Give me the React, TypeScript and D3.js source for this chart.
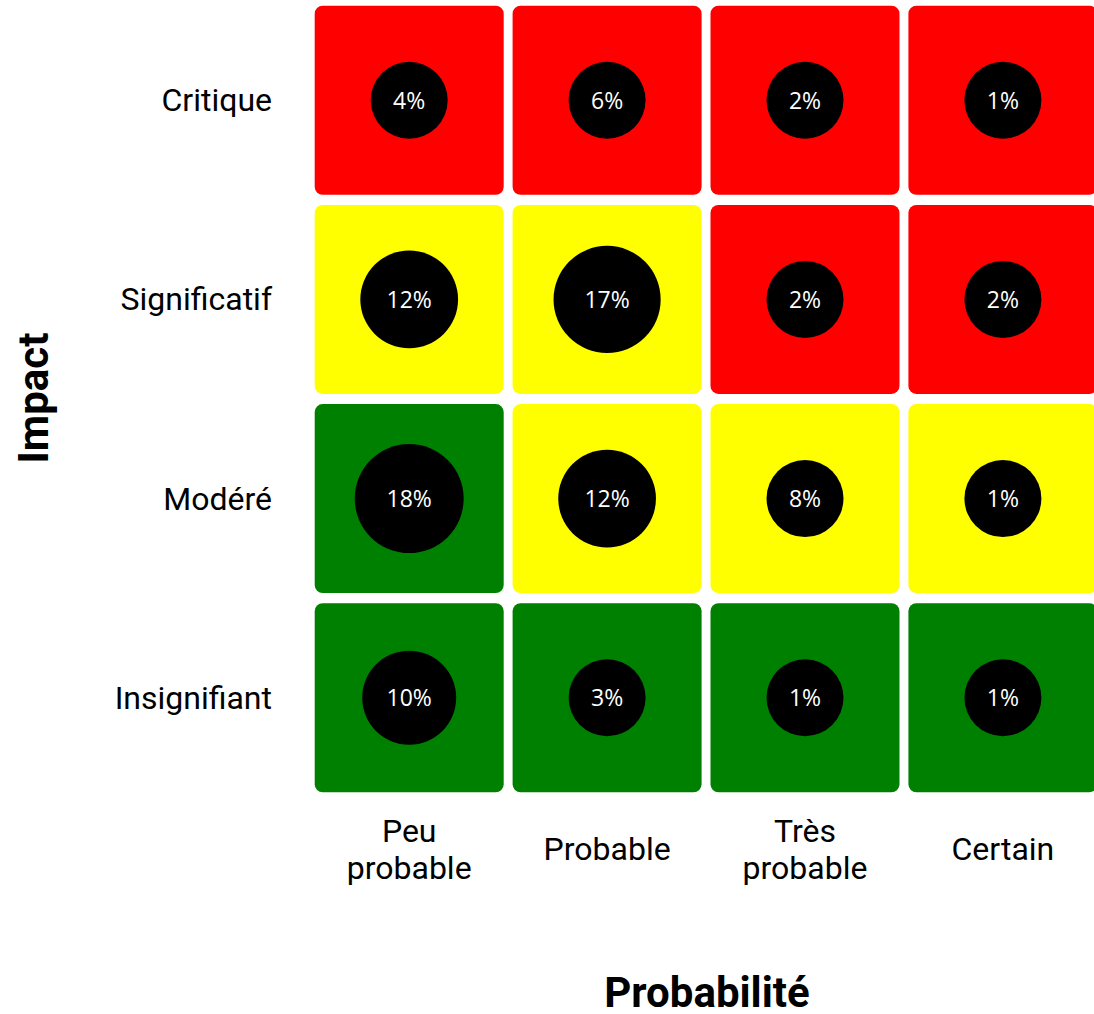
import * as React from "react";
import { scaleBand, scaleLinear, scaleOrdinal } from "d3";

// matrix rows (impact) from top to bottom
const impacts = ["Critique", "Significatif", "Modéré", "Insignifiant"];
// matrix columns (probability), split into the lines shown under each column
const probabilities = [["Peu", "probable"], ["Probable"], ["Très", "probable"], ["Certain"]];

// share of risks in each cell, in %, one array per impact row
const critique = [4, 6, 2, 1];
const significatif = [12, 17, 2, 2];
const modere = [18, 12, 8, 1];
const insignifiant = [10, 3, 1, 1];
const shares = [critique, significatif, modere, insignifiant];

// risk level of each cell: 0 low, 1 medium, 2 high
const levels = [
  [2, 2, 2, 2],
  [1, 1, 2, 2],
  [0, 1, 1, 1],
  [0, 0, 0, 0],
];

const W = 1094;
const H = 1014;

export default function App() {
  const xScale = scaleBand<number>()
    .domain([0, 1, 2, 3])
    .range([314.7, 1097.4])
    .paddingInner(0.045);

  const yScale = scaleBand<number>()
    .domain([0, 1, 2, 3])
    .range([5.7, 792.3])
    .paddingInner(0.051);

  const color = scaleOrdinal<number, string>()
    .domain([0, 1, 2])
    .range(["#008000", "#ffff00", "#ff0000"]);

  // small shares all get the same base bubble
  const rScale = scaleLinear().domain([0, 9, 10, 18]).range([38.5, 38.5, 47, 54.5]);

  const bw = xScale.bandwidth();
  const bh = yScale.bandwidth();

  const cell = (v: number, row: number, col: number) => {
    const x = xScale(col)!;
    const y = yScale(row)!;
    const cx = x + bw / 2;
    const cy = y + bh / 2;
    return (
      <g key={`${row}-${col}`}>
        <rect x={x} y={y} width={bw} height={bh} rx={8} ry={8} fill={color(levels[row][col])} />
        <circle cx={cx} cy={cy} r={rScale(v)} fill="black" />
        <text
          x={cx}
          y={cy + 8.5}
          fill="white"
          textAnchor="middle"
          fontFamily="'Open Sans', sans-serif"
          fontSize={23}
        >
          {`${v}%`}
        </text>
      </g>
    );
  };

  return (
    <svg
      width={W}
      height={H}
      style={{ position: "absolute", left: 0, top: 0, background: "white" }}
      fontFamily="Roboto, sans-serif"
    >
      {shares.map((rowVals, row) => rowVals.map((v, col) => cell(v, row, col)))}

      {impacts.map((label, row) => (
        <text
          key={label}
          x={272}
          y={yScale(row)! + bh / 2 + 11}
          textAnchor="end"
          fontSize={32}
          fill="black"
        >
          {label}
        </text>
      ))}

      {probabilities.map((lines, col) => {
        const cx = xScale(col)! + bw / 2;
        const lh = 37;
        const first = 860 - ((lines.length - 1) * lh) / 2;
        return (
          <text key={col} textAnchor="middle" fontSize={32} fill="black">
            {lines.map((l, i) => (
              <tspan key={i} x={cx} y={first + i * lh}>
                {l}
              </tspan>
            ))}
          </text>
        );
      })}

      <text
        transform="translate(48,398) rotate(-90)"
        textAnchor="middle"
        fontSize={42}
        fontWeight="bold"
        fill="black"
      >
        Impact
      </text>
      <text x={707} y={1007} textAnchor="middle" fontSize={42} fontWeight="bold" fill="black">
        Probabilité
      </text>
    </svg>
  );
}
